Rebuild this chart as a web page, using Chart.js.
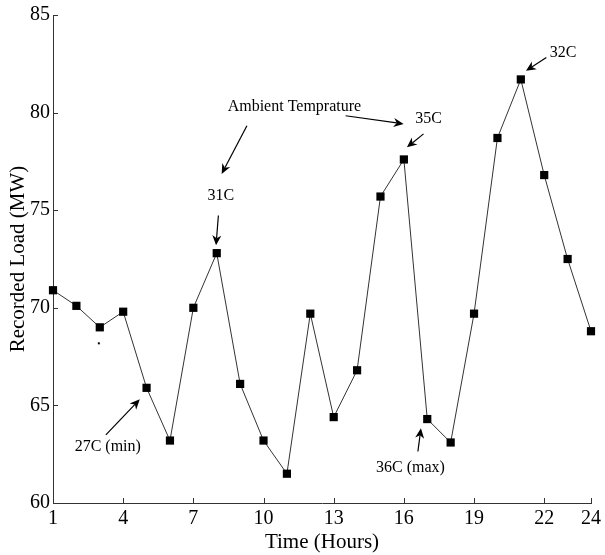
<!DOCTYPE html>
<html>
<head>
<meta charset="utf-8">
<script src="https://cdn.jsdelivr.net/npm/chart.js@4/dist/chart.umd.min.js"></script>
<style>
    html, body { margin: 0; padding: 0; background: #fff; }
    #wrap { width: 605px; height: 555px; position: relative; }
</style>
</head>
<body>
<div id="wrap"><canvas id="loadChart"></canvas></div>
<script>
// *** DATA ***
var hours = [1, 2, 3, 4, 5, 6, 7, 8, 9, 10, 11, 12, 13, 14, 15, 16, 17, 18, 19, 20, 21, 22, 23, 24];
var loadMW = [70.9, 70.1, 69.0, 69.8, 65.9, 63.2, 70.0, 72.8, 66.1, 63.2, 61.5, 69.7,
              64.4, 66.8, 75.7, 77.6, 64.3, 63.1, 69.7, 78.7, 81.7, 76.8, 72.5, 68.8];
var xTicks = [1, 4, 7, 10, 13, 16, 19, 22, 24];
var yTicks = [60, 65, 70, 75, 80, 85];

// annotations (data units)
var noteText = ["Ambient Temprature", "31C", "35C", "32C", "27C (min)", "36C (max)"];
var noteX = [11.32, 8.18, 17.06, 22.81, 3.34, 16.28];
var noteY = [80.3, 75.76, 79.67, 83.08, 62.89, 61.79];

var arrowFromX = [9.29, 13.51, 16.84, 22.09, 8.07, 3.26, 16.60];
var arrowFromY = [79.33, 79.84, 78.91, 82.82, 74.73, 63.49, 62.64];
var arrowToX = [8.21, 15.99, 16.13, 21.22, 7.97, 4.71, 16.73];
var arrowToY = [76.86, 79.42, 78.22, 82.14, 73.20, 65.31, 63.83];

var strayDot = [2.96, 68.18];

var serif = "'Liberation Serif', 'Times New Roman', serif";

// *** PLUGIN: inward ticks, notes, arrows ***
var extrasPlugin = {
    id: 'extras',
    afterDatasetsDraw: function(chart) {
        var ctx = chart.ctx;
        var xs = chart.scales.x;
        var ys = chart.scales.y;
        var area = chart.chartArea;

        ctx.save();
        ctx.strokeStyle = '#333';
        ctx.lineWidth = 1;
        ctx.beginPath();
        xTicks.forEach(function(t) {
            var px = Math.round(xs.getPixelForValue(t)) + 0.5;
            ctx.moveTo(px, area.bottom);
            ctx.lineTo(px, area.bottom - 5);
        });
        yTicks.forEach(function(t) {
            var py = Math.round(ys.getPixelForValue(t)) + 0.5;
            ctx.moveTo(area.left, py);
            ctx.lineTo(area.left + 5, py);
        });
        ctx.stroke();

        // notes
        ctx.fillStyle = '#000';
        ctx.font = "16px " + serif;
        ctx.textAlign = 'center';
        ctx.textBaseline = 'middle';
        for (var i = 0; i < noteText.length; i++) {
            ctx.fillText(noteText[i], xs.getPixelForValue(noteX[i]), ys.getPixelForValue(noteY[i]));
        }

        // arrows
        for (var j = 0; j < arrowFromX.length; j++) {
            var x0 = xs.getPixelForValue(arrowFromX[j]);
            var y0 = ys.getPixelForValue(arrowFromY[j]);
            var x1 = xs.getPixelForValue(arrowToX[j]);
            var y1 = ys.getPixelForValue(arrowToY[j]);
            drawArrow(ctx, x0, y0, x1, y1);
        }

        // small stray dot
        ctx.fillRect(xs.getPixelForValue(strayDot[0]) - 1, ys.getPixelForValue(strayDot[1]) - 1, 2, 2);
        ctx.restore();
    }
};

function drawArrow(ctx, x0, y0, x1, y1) {
    var ang = Math.atan2(y1 - y0, x1 - x0);
    var len = 10, wid = 4.5, notch = 7;
    ctx.strokeStyle = '#000';
    ctx.lineWidth = 1.2;
    ctx.beginPath();
    ctx.moveTo(x0, y0);
    ctx.lineTo(x1 - Math.cos(ang) * notch, y1 - Math.sin(ang) * notch);
    ctx.stroke();
    var bx = x1 - Math.cos(ang) * len;
    var by = y1 - Math.sin(ang) * len;
    var nx = -Math.sin(ang), ny = Math.cos(ang);
    ctx.beginPath();
    ctx.moveTo(x1, y1);
    ctx.lineTo(bx + nx * wid, by + ny * wid);
    ctx.lineTo(x1 - Math.cos(ang) * notch, y1 - Math.sin(ang) * notch);
    ctx.lineTo(bx - nx * wid, by - ny * wid);
    ctx.closePath();
    ctx.fillStyle = '#000';
    ctx.fill();
}

var loadChart = new Chart(document.getElementById('loadChart'), {
    type: 'line',
    data: {
        datasets: [{
            data: hours.map(function(h, i) { return { x: h, y: loadMW[i] }; }),
            borderColor: '#333',
            borderWidth: 1,
            pointStyle: 'rect',
            pointRadius: 5.8,
            pointBackgroundColor: '#000',
            pointBorderColor: '#000',
            pointBorderWidth: 0,
            tension: 0,
            clip: false
        }]
    },
    options: {
        responsive: true,
        maintainAspectRatio: false,
        animation: false,
        layout: { padding: { top: 14, right: 12, left: 0, bottom: 0 } },
        plugins: { legend: { display: false }, tooltip: { enabled: false } },
        scales: {
            x: {
                type: 'linear',
                min: 1,
                max: 24,
                afterBuildTicks: function(s) { s.ticks = xTicks.map(function(v) { return { value: v }; }); },
                afterFit: function(s) { s.height = 52; },
                grid: { display: false, drawTicks: false },
                border: { display: true, color: '#333', width: 1 },
                ticks: { color: '#000', font: { family: serif, size: 20 }, padding: 4, maxRotation: 0, autoSkip: false },
                title: { display: true, text: 'Time (Hours)', color: '#000', font: { family: serif, size: 21 }, padding: { top: 0, bottom: 0 } }
            },
            y: {
                min: 60,
                max: 85,
                afterBuildTicks: function(s) { s.ticks = yTicks.map(function(v) { return { value: v }; }); },
                afterFit: function(s) { s.width = 53; },
                grid: { display: false, drawTicks: false },
                border: { display: true, color: '#333', width: 1 },
                ticks: { color: '#000', font: { family: serif, size: 20 }, padding: 3 },
                title: { display: true, text: 'Recorded Load (MW)', color: '#000', font: { family: serif, size: 21 }, padding: { top: 6, bottom: 0 } }
            }
        }
    },
    plugins: [extrasPlugin]
});
</script>
</body>
</html>
